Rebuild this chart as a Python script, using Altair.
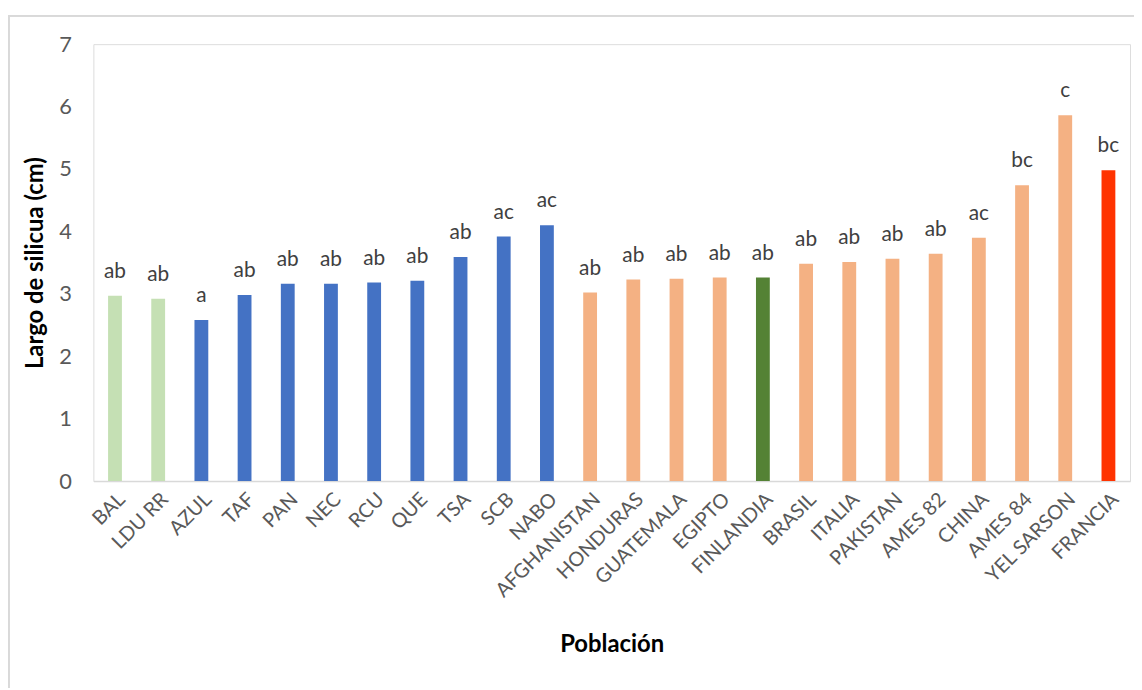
import altair as alt
import pandas as pd

poblaciones = ["BAL", "LDU RR", "AZUL", "TAF", "PAN", "NEC", "RCU", "QUE", "TSA", "SCB", "NABO",
               "AFGHANISTAN", "HONDURAS", "GUATEMALA", "EGIPTO", "FINLANDIA", "BRASIL", "ITALIA",
               "PAKISTAN", "AMES 82", "CHINA", "AMES 84", "YEL SARSON", "FRANCIA"]
largo = [2.97, 2.92, 2.58, 2.98, 3.16, 3.16, 3.18, 3.21, 3.59, 3.92, 4.10,
         3.02, 3.23, 3.24, 3.26, 3.26, 3.48, 3.51, 3.56, 3.64, 3.90, 4.74, 5.86, 4.98]
letras = ["ab", "ab", "a", "ab", "ab", "ab", "ab", "ab", "ab", "ac", "ac",
          "ab", "ab", "ab", "ab", "ab", "ab", "ab", "ab", "ab", "ac", "bc", "c", "bc"]
grupo = ["verde claro", "verde claro"] + ["azul"] * 9 + ["naranja"] * 4 + ["verde"] + \
        ["naranja"] * 7 + ["rojo"]
grupos = ["verde claro", "azul", "naranja", "verde", "rojo"]
colores = ["#C5E0B4", "#4472C4", "#F4B183", "#548235", "#FF3300"]
ticks_y = [0, 1, 2, 3, 4, 5, 6, 7]

df = pd.DataFrame({"Población": poblaciones, "largo": largo, "letra": letras, "grupo": grupo})

FONT = "Lato"
W, H = 1044, 440

x = alt.X("Población:N", sort=poblaciones,
          scale=alt.Scale(paddingInner=0.68, paddingOuter=0.34),
          axis=alt.Axis(title="Población", labelAngle=-45, labelFontSize=20, labelColor="#595959",
                        labelFont=FONT, labelPadding=8, ticks=False, domainColor="#D9D9D9",
                        domainWidth=1.5, titleFont=FONT, titleFontSize=24, titleFontWeight="bold",
                        titleColor="#000000", titlePadding=32))
y = alt.Y("largo:Q", scale=alt.Scale(domain=[0, 7]),
          axis=alt.Axis(title="Largo de silicua (cm)", values=ticks_y, format="d",
                        labelFontSize=22, labelColor="#595959", labelFont=FONT, labelPadding=22,
                        ticks=False, domain=False, grid=False, titleFont=FONT, titleFontSize=24,
                        titleFontWeight="bold", titleColor="#000000", titlePadding=11))

bars = alt.Chart(df).mark_bar().encode(
    x=x, y=y,
    color=alt.Color("grupo:N", scale=alt.Scale(domain=grupos, range=colores), legend=None),
)
text = alt.Chart(df).mark_text(font=FONT, fontSize=21, color="#404040", baseline="alphabetic",
                               dy=-18).encode(
    x=alt.X("Población:N", sort=poblaciones), y="largo:Q", text="letra:N")

border = alt.Chart(df).mark_rect(fill=None, stroke="#D9D9D9", strokeWidth=1.5).encode(
    x=alt.value(-85.5), x2=alt.value(1200), y=alt.value(-28.5), y2=alt.value(800))

chart = alt.layer(border, bars, text).properties(
    width=W, height=H, autosize=alt.AutoSizeParams(type="none"),
    padding={"left": 86, "top": 34, "right": 4, "bottom": 206},
).configure_view(stroke=None).configure(font=FONT)

chart.save("out.html", embed_options={"renderer": "svg", "actions": False})
